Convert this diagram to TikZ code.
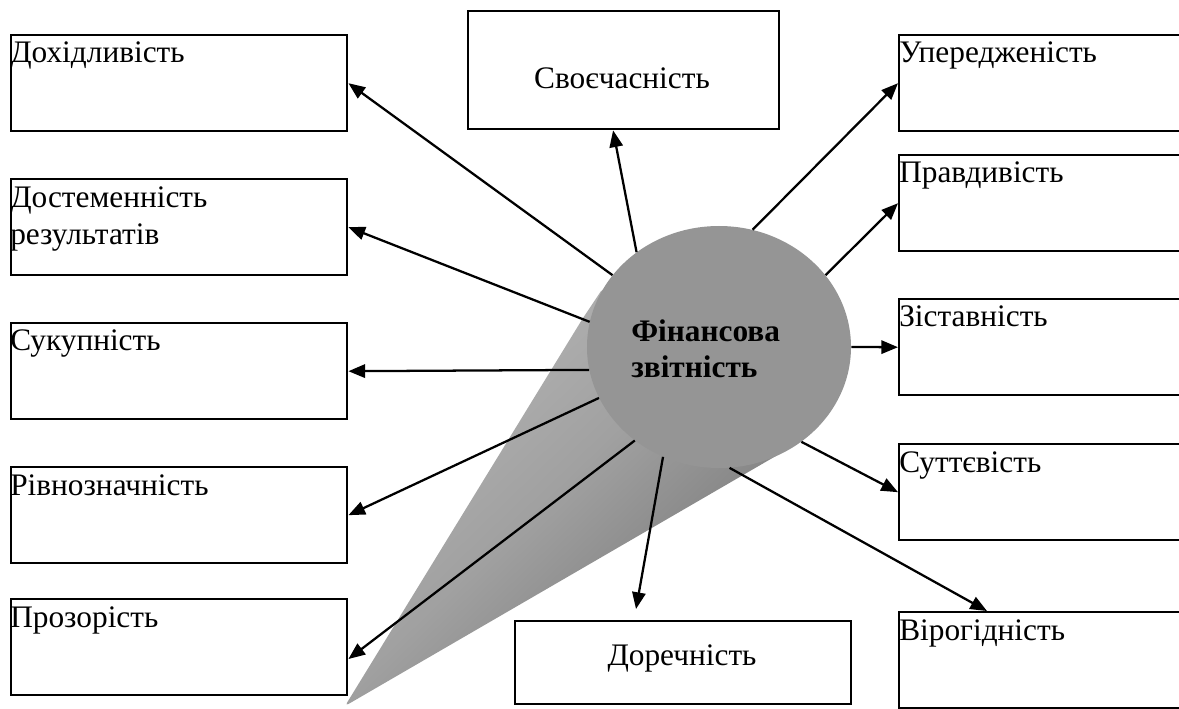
\documentclass[tikz,border=0pt]{standalone}
\usepackage{fontspec}
\setmainfont{Liberation Serif}
\usetikzlibrary{shapes.geometric,arrows.meta}
\definecolor{fincol}{RGB}{149,149,149}
\pgfdeclarehorizontalshading{conegrad}{100bp}{rgb(0bp)=(0.72,0.72,0.72); rgb(29bp)=(0.70,0.70,0.70); rgb(48bp)=(0.63,0.63,0.63); rgb(63bp)=(0.53,0.53,0.53); rgb(69bp)=(0.60,0.60,0.60); rgb(100bp)=(0.60,0.60,0.60)}

\begin{document}
\begin{tikzpicture}[x=0.75pt,y=0.75pt,yscale=-1,xscale=1,
  box/.style={draw, line width=1.8pt, inner sep=0pt, anchor=north west, minimum width=252pt, minimum height=72pt},
  rbox/.style={box, minimum width=226.5pt},
  lbl/.style={inner sep=0pt, anchor=base west, font=\fontsize{23.5}{27.5}\selectfont},
  arr/.style={line width=1.7pt, -{Triangle[length=12.5pt,width=10pt]}}]
\useasboundingbox (0,0) rectangle (1179,709);
\clip (0,0) rectangle (1179,709);

%Cone behind the circle
\shade[shading=conegrad, shading angle=-46, rounded corners=3pt] (345,706) -- (583,318) -- (603,288) -- (719,347) -- (800,442) -- cycle;
%Circle
\node[ellipse, fill=fincol, inner sep=0pt, minimum width=198pt, minimum height=181.5pt] (fin) at (719,347) {};

%Left column
\node[box] (dokh) at (10,34) {};
\node[box] (dost) at (10,178) {};
\node[box] (suk) at (10,322) {};
\node[box] (rivn) at (10,466) {};
\node[box] (proz) at (10,598) {};
%Top and bottom
\node[box, minimum width=233.25pt, minimum height=88.5pt] (svo) at (467,10) {};
\node[box, minimum height=62.25pt] (dor) at (514,620) {};
%Right column
\node[rbox] (upr) at (898,34) {};
\node[rbox] (prav) at (898,154) {};
\node[rbox] (zist) at (898,298) {};
\node[rbox] (sut) at (898,443) {};
\node[rbox] (vir) at (898,611) {};

\coordinate (dortip) at (636,609);
\coordinate (virtip) at (987,611);

%Arrows
\draw[arr] (fin.146) -- (dokh.east);
\draw[arr] (fin.169) -- (dost.east);
\draw[arr] (fin.190) -- (suk.east);
\draw[arr] (fin.203) -- (rivn.east);
\draw[arr] (fin.228.5) -- (proz.-4);
\draw[arr] (fin.243) -- (dortip);
\draw[arr] (fin.131.5) -- (svo.260);
\draw[arr] (fin.74) -- (upr.west);
\draw[arr] (fin.34) -- (prav.west);
\draw[arr] (fin.0) -- (zist.west);
\draw[arr] (fin.311) -- (sut.west);
\draw[arr] (fin.275) -- (virtip);

% Text Node
\node[lbl] (tdokh) at (10,63) {Дохідливість};
\node[lbl] (tdost) at (10,208) {Достеменність};
\node[lbl] (tdostb) at (10,245) {результатів};
\node[lbl] (tsuk) at (10,351) {Сукупність};
\node[lbl] (trivn) at (10,495) {Рівнозначність};
\node[lbl] (tproz) at (10,627) {Прозорість};
\node[lbl, anchor=base] (tsvo) at (622,89) {Своєчасність};
\node[lbl, anchor=base] (tdor) at (682,665) {Доречність};
\node[lbl] (tupr) at (899,63) {Упередженість};
\node[lbl] (tprav) at (899,183) {Правдивість};
\node[lbl] (tzist) at (899,327) {Зіставність};
\node[lbl] (tsut) at (899,472) {Суттєвість};
\node[lbl] (tvir) at (899,640) {Вірогідність};
\node[lbl, font=\fontsize{23.5}{27.5}\selectfont\bfseries] (tfin) at (631,342) {Фінансова};
\node[lbl, font=\fontsize{23.5}{27.5}\selectfont\bfseries] (tfinb) at (631,378) {звітність};

\end{tikzpicture}
\end{document}
